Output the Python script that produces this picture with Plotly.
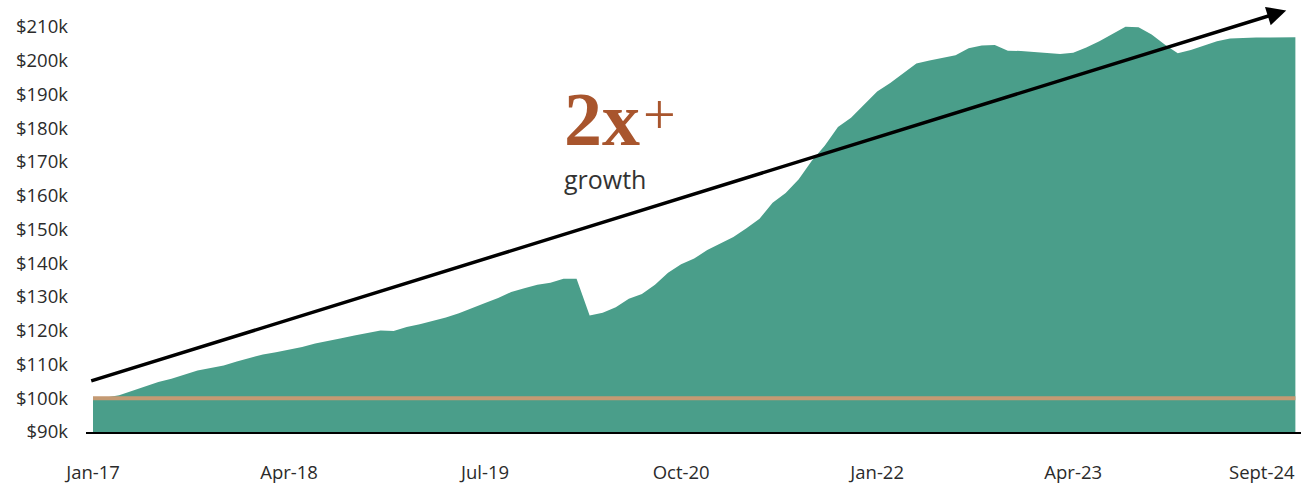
import pandas as pd
import plotly.graph_objects as go

# Month categories, Jan 2017 through Sep 2024
months = pd.date_range("2017-01-01", "2024-09-01", freq="MS").strftime("%b-%y").tolist()

# Portfolio value, thousands of dollars, month end
portfolio_k = [
    100.0, 100.2, 100.9, 102.2, 103.4, 104.8, 105.8, 107.0, 108.2, 109.0, 109.7, 110.9,
    111.9, 113.0, 113.6, 114.3, 115.2, 116.2, 116.9, 117.8, 118.6, 119.4, 120.1, 119.9,
    121.1, 121.9, 122.8, 123.9, 125.2, 126.6, 128.2, 129.7, 131.5, 132.6, 133.6, 134.2,
    135.4, 135.4, 124.5, 125.3, 127.0, 129.5, 130.9, 133.6, 137.2, 139.7, 141.4, 143.9,
    145.9, 147.8, 150.4, 153.2, 157.9, 160.8, 164.9, 170.4, 174.9, 180.4, 183.1, 186.9,
    190.9, 193.4, 196.3, 199.2, 200.1, 200.8, 201.6, 203.7, 204.5, 204.7, 203.0, 202.9,
    202.6, 202.4, 202.0, 202.4, 203.9, 205.8, 208.0, 210.1, 209.9, 207.8, 204.8, 202.2,
    203.2, 204.5, 205.8, 206.6, 206.8, 206.9, 206.9, 207.0, 207.0,
]

# Initial investment reference level
initial_k = 100
baseline_k = [initial_k] * len(months)

# Axis ticks
y_ticks = list(range(90, 211, 10))
y_tick_labels = [f"${v}k" for v in y_ticks]
x_tick_months = ["Jan-17", "Apr-18", "Jul-19", "Oct-20", "Jan-22", "Apr-23", "Sep-24"]
x_tick_labels = ["Jan-17", "Apr-18", "Jul-19", "Oct-20", "Jan-22", "Apr-23", "Sept-24"]

# Trend arrow endpoints (month index, $k)
arrow_start = (-0.25, 105.0)
arrow_end = (91.3, 214.9)

TEAL = "#4A9E8A"
TAN = "#C49A73"
RUST = "#A8552D"
TEXT = "#2B2B2B"
FONT = "Open Sans"
TICK_SIZE = 18.5

fig = go.Figure()

fig.add_trace(go.Scatter(
    x=months, y=portfolio_k, mode="lines", fill="tozeroy",
    fillcolor=TEAL, line=dict(width=0, color=TEAL), hoverinfo="skip",
))
fig.add_trace(go.Scatter(
    x=months, y=baseline_k, mode="lines",
    line=dict(width=4, color=TAN), hoverinfo="skip",
))

# Growth trend arrow
fig.add_annotation(
    x=arrow_end[0], y=arrow_end[1], ax=arrow_start[0], ay=arrow_start[1],
    xref="x", yref="y", axref="x", ayref="y", text="",
    showarrow=True, arrowhead=2, arrowsize=1.1, arrowwidth=3.5, arrowcolor="black",
)

# Headline callout
fig.add_annotation(
    x=35.87, y=169.6, xref="x", yref="y", xanchor="left", yanchor="bottom",
    text="<b>2x</b>", showarrow=False,
    font=dict(family="Liberation Serif", size=76, color=RUST),
)
fig.add_annotation(
    x=0.4724, y=0.734, xref="paper", yref="paper", xanchor="center", yanchor="middle",
    text="+", showarrow=False,
    font=dict(family="Liberation Serif", size=58, color=RUST),
)
fig.add_annotation(
    x=35.87, y=170.7, xref="x", yref="y", xanchor="left", yanchor="top",
    text="growth", showarrow=False,
    font=dict(family=FONT, size=25, color="#333333"),
)

# Final tick label, right-aligned at the last month
fig.add_annotation(
    x=len(months) - 1, y=0, xref="x", yref="paper", xanchor="right", yanchor="top",
    yshift=-25, xshift=2, text=x_tick_labels[-1], showarrow=False,
    font=dict(family=FONT, size=TICK_SIZE, color=TEXT),
)

fig.update_layout(
    width=1301, height=486,
    margin=dict(l=86, r=0, t=0, b=54),
    paper_bgcolor="white", plot_bgcolor="white",
    showlegend=False,
    font=dict(family=FONT, size=TICK_SIZE, color=TEXT),
)
fig.update_xaxes(
    type="category", range=[-0.536, 92.43],
    tickmode="array", tickvals=x_tick_months[:-1], ticktext=x_tick_labels[:-1],
    showgrid=False, zeroline=False,
    showline=True, linecolor="black", linewidth=1.5,
    ticks="", ticklabelstandoff=23,
)
fig.update_yaxes(
    range=[90, 218], tickmode="array", tickvals=y_ticks, ticktext=y_tick_labels,
    showgrid=False, zeroline=False, showline=False,
    ticks="", ticklabelstandoff=17,
)

fig.write_html("out.html")
